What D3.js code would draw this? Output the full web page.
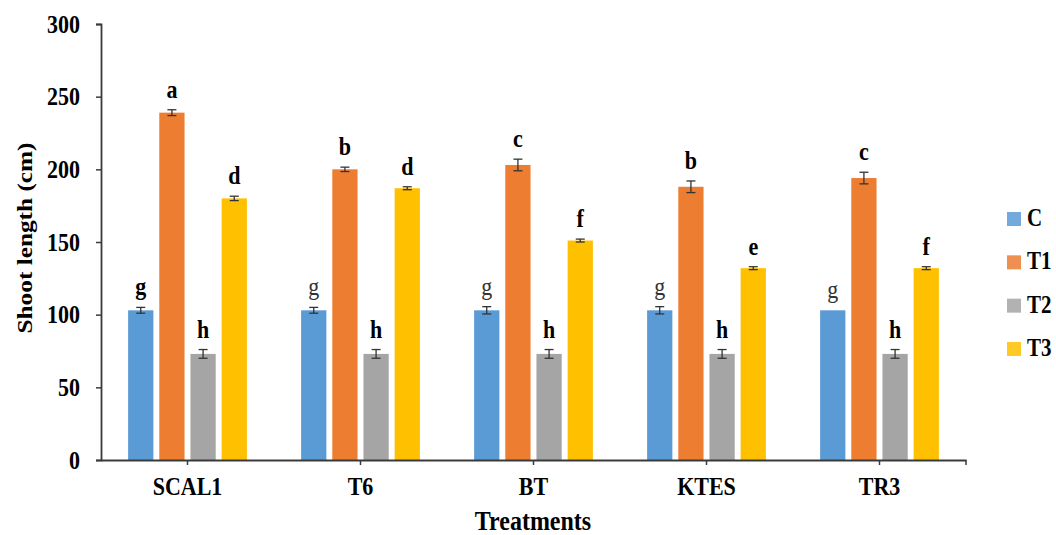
<!DOCTYPE html>
<html>
<head>
<meta charset="utf-8">
<script src="https://cdn.jsdelivr.net/npm/d3@7"></script>
<style>
  html, body { margin: 0; padding: 0; background: #fff; }
  svg { display: block; font-family: "Liberation Serif", "Times New Roman", serif; }
</style>
</head>
<body>
<svg id="chart" width="1056" height="535"></svg>
<script>
// Treatments along the x axis
const categories = ["SCAL1", "T6", "BT", "KTES", "TR3"];
// Series shown in each group
const seriesNames = ["C", "T1", "T2", "T3"];
const seriesColors = ["#5B9BD5", "#ED7D31", "#A5A5A5", "#FFC000"];

// Mean shoot length (cm) per series, one value per treatment
const valuesC  = [103, 103, 103, 103, 103];
const valuesT1 = [239, 200, 203, 188, 194];
const valuesT2 = [73, 73, 73, 73, 73];
const valuesT3 = [180, 187, 151, 132, 132];

// Standard errors
const errC  = [2, 2, 2.5, 2.5, 0];
const errT1 = [2, 1.5, 4, 4, 4];
const errT2 = [3, 3, 3, 3, 3];
const errT3 = [1.5, 1, 1, 1, 1];

// Significance letters, and whether each is set in bold
const lettersC  = ["g", "g", "g", "g", "g"];
const boldC     = [true, false, false, false, false];
const lettersT1 = ["a", "b", "c", "b", "c"];
const lettersT2 = ["h", "h", "h", "h", "h"];
const lettersT3 = ["d", "d", "f", "e", "f"];

const yTicks = [0, 50, 100, 150, 200, 250, 300];

const allValues = [valuesC, valuesT1, valuesT2, valuesT3];
const allErrs = [errC, errT1, errT2, errT3];
const allLetters = [lettersC, lettersT1, lettersT2, lettersT3];
const allBold = [boldC, categories.map(() => true), categories.map(() => true), categories.map(() => true)];

const rows = [];
categories.forEach((cat, i) => {
  seriesNames.forEach((s, j) => {
    rows.push({
      cat, series: s, color: seriesColors[j],
      value: allValues[j][i], err: allErrs[j][i],
      letter: allLetters[j][i], bold: allBold[j][i]
    });
  });
});

const svg = d3.select("#chart");
const plotLeft = 101, plotRight = 966, plotTop = 24, plotBottom = 460;
const STRETCH = 1.15; // tall, narrow lettering

const x = d3.scaleBand().domain(categories).range([plotLeft, plotRight]).paddingInner(0).paddingOuter(0);
const xs = d3.scaleBand().domain(seriesNames).range([0, x.bandwidth()]).paddingInner(0.19).paddingOuter(0.87);
const y = d3.scaleLinear().domain([0, 300]).range([plotBottom, plotTop]);

// Bars
svg.append("g").selectAll("rect").data(rows).join("rect")
  .attr("x", d => x(d.cat) + xs(d.series))
  .attr("y", d => y(d.value))
  .attr("width", xs.bandwidth())
  .attr("height", d => y(0) - y(d.value))
  .attr("fill", d => d.color);

// Error bars
const eg = svg.append("g").attr("stroke", "#333").attr("stroke-width", 1.3);
rows.forEach(d => {
  if (d.err <= 0) return;
  const cx = x(d.cat) + xs(d.series) + xs.bandwidth() / 2;
  const y1 = y(d.value + d.err), y2 = y(d.value - d.err);
  eg.append("line").attr("x1", cx).attr("x2", cx).attr("y1", y1).attr("y2", y2);
  eg.append("line").attr("x1", cx - 4.5).attr("x2", cx + 4.5).attr("y1", y1).attr("y2", y1);
  eg.append("line").attr("x1", cx - 4.5).attr("x2", cx + 4.5).attr("y1", y2).attr("y2", y2);
});

// Significance letters
svg.append("g").selectAll("g").data(rows).join("g")
  .attr("transform", d => {
    const cx = x(d.cat) + xs(d.series) + xs.bandwidth() / 2;
    return `translate(${cx},${y(d.value + d.err) - 12}) scale(1,${STRETCH})`;
  })
  .append("text")
  .attr("text-anchor", "middle")
  .attr("font-size", 22)
  .attr("font-weight", d => d.bold ? "bold" : "normal")
  .attr("fill", d => d.bold ? "#000" : "#333")
  .text(d => d.letter);

// Y axis
const yAxis = svg.append("g").attr("transform", `translate(${plotLeft},0)`)
  .call(d3.axisLeft(y).tickValues(yTicks).tickSize(5).tickPadding(16));
yAxis.select(".domain").attr("stroke", "#3a3a3a").attr("stroke-width", 1.8);
yAxis.selectAll(".tick line").attr("stroke", "#3a3a3a").attr("stroke-width", 1.5);
yAxis.selectAll(".tick text")
  .attr("font-family", "Liberation Serif, serif")
  .attr("font-size", 22).attr("font-weight", "bold").attr("fill", "#000")
  .attr("transform", `scale(1,${STRETCH})`);

// X axis
const xAxis = svg.append("g").attr("transform", `translate(0,${plotBottom})`)
  .call(d3.axisBottom(x).tickSize(5).tickSizeOuter(0).tickPadding(10));
xAxis.select(".domain").attr("stroke", "#3a3a3a").attr("stroke-width", 1.8);
xAxis.selectAll(".tick line").attr("stroke", "#3a3a3a").attr("stroke-width", 1.5);
xAxis.selectAll(".tick text")
  .attr("font-family", "Liberation Serif, serif")
  .attr("font-size", 22).attr("font-weight", "bold").attr("fill", "#000")
  .attr("transform", `scale(1,${STRETCH})`);
xAxis.append("line").attr("x1", plotRight).attr("x2", plotRight).attr("y1", 0).attr("y2", 5)
  .attr("stroke", "#3a3a3a").attr("stroke-width", 1.5);

// Axis titles
svg.append("g").attr("transform", `translate(533,530) scale(1,${STRETCH})`)
  .append("text").attr("text-anchor", "middle")
  .attr("font-size", 24).attr("font-weight", "bold").text("Treatments");
svg.append("g").attr("transform", `translate(32,238) rotate(-90) scale(${STRETCH},1)`)
  .append("text").attr("text-anchor", "middle")
  .attr("font-size", 22).attr("font-weight", "bold").text("Shoot length (cm)");

// Legend
const ly = d3.scalePoint().domain(seriesNames).range([219, 349]);
const legend = svg.append("g").selectAll("g").data(seriesNames).join("g")
  .attr("transform", d => `translate(1007,${ly(d)})`);
legend.append("rect").attr("x", 0).attr("y", -7).attr("width", 14).attr("height", 14)
  .attr("fill", (d, i) => seriesColors[i]).attr("opacity", 0.85);
legend.append("g").attr("transform", `translate(20,7) scale(1,${STRETCH})`)
  .append("text").attr("font-size", 21).attr("font-weight", "bold").text(d => d);
</script>
</body>
</html>
